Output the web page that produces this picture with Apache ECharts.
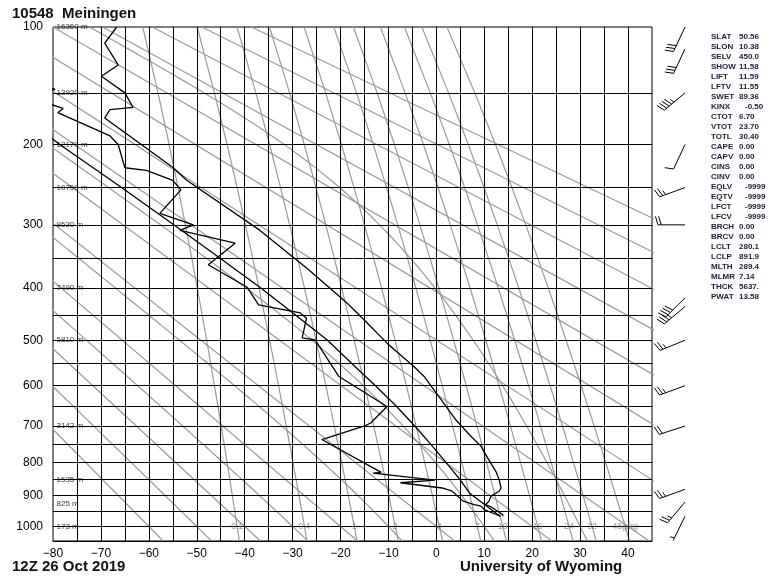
<!DOCTYPE html>
<html><head><meta charset="utf-8">
<script src="https://cdn.jsdelivr.net/npm/echarts@6/dist/echarts.min.js"></script>
<style>html,body{margin:0;padding:0;background:#fff}#c{width:778px;height:582px}</style>
</head><body><div id="c"></div>
<script>
// ---------------- data ----------------
const stationTitle = '10548  Meiningen';
const timeTitle = '12Z 26 Oct 2019';
const sourceTitle = 'University of Wyoming';

const pressureLabels = [100, 200, 300, 400, 500, 600, 700, 800, 900, 1000];
const isobars = [150, 200, 250, 300, 350, 400, 450, 500, 550, 600, 650, 700, 750, 800, 850, 900, 950, 1000];
const isotherms = [-75,-70,-65,-60,-55,-50,-45,-40,-35,-30,-25,-20,-15,-10,-5,0,5,10,15,20,25,30,35,40];
const tempTickLabels = [-80,-70,-60,-50,-40,-30,-20,-10,0,10,20,30,40];

const heightLevels = [100, 150, 200, 250, 300, 400, 500, 700, 850, 925, 1000];
const heightTexts = ['16360 m','13920 m','12170 m','10750 m','9530 m','7490 m','5810 m','3142 m','1535 m','825 m','173 m'];

// temperature profile [pressure hPa, T degC]
const tempProfile = [
  [100,-66.7],[111,-69.2],[127,-66.4],[136,-69.9],[150,-65.0],[163,-63.3],[165,-68.1],[173,-69.2],
  [226,-54.9],[241,-52.1],[308,-36.8],[369,-26.7],[428,-18.6],[459,-15.1],[506,-10.3],[556,-4.7],
  [578,-2.6],[630,0.8],[683,4.0],[727,7.2],[754,9.3],[787,10.7],[826,12.4],[850,13.1],[876,13.5],
  [881,13.8],[886,13.1],[901,11.4],[917,11.0],[928,10.3],[935,11.4],[960,13.8],[966,13.9]
];
// dew point profile
const dewProfile = [
  [140,-84],[147,-79.6],[151,-82],[158,-82],[164,-77.9],[168,-79.0],[191,-68.1],[200,-66.4],
  [226,-65.0],[229,-60.5],[241,-55.0],[253,-53.3],[284,-57.7],[300,-50.7],[308,-53.5],[327,-42.0],
  [361,-47.6],[399,-39.5],[431,-37.1],[446,-28.4],[456,-27.1],[495,-28.0],[499,-25.3],[578,-20.4],
  [650,-10.3],[692,-13.7],[699,-14.8],[736,-23.9],[829,-11.5],[831,-13.2],[852,-0.3],[860,-7.5],
  [876,1.2],[886,3.3],[917,5.6],[928,7.9],[933,9.3],[944,10.0],[966,13.4]
];
// lifted parcel path
const parcelProfile = [
  [966,13.3],[892,6.95],[850,4.9],[800,2.0],[750,-1.1],[700,-4.5],[650,-8.3],[600,-12.7],
  [550,-17.6],[500,-22.7],[450,-29.4],[400,-36.7],[350,-45.2],[300,-54.8],[250,-65.7],[200,-78.6],[190,-81.2]
];

// background reference lines
const dryAdiabatThetas = [-60,-40,-20,0,20,40,60,80,100,120,140,160,180];   // degC
const moistAdiabatThetaW = [-50,-30,-10,10,30];                               // degC at 1000 hPa
const mixingRatios = [0.1, 0.4, 1, 2, 4, 7, 10, 16, 24, 32, 48];
const mixingLabels = ['0.1','0.4','1','2','4','7','10','16','24','32','48g/kg'];
const refPressures = [100,150,200,250,300,350,400,450,500,550,600,650,700,750,800,850,900,950,1000,1050];

// winds [pressure, direction deg, speed kt]
const winds = [
  [100,205,30],[115,205,30],[150,230,45],[200,205,10],[250,250,25],[300,270,20],
  [418,225,40],[434,230,35],[500,248,25],[600,250,25],[700,252,20],[880,250,25],[920,220,25],[966,206,5]
];

const indexNames = ['SLAT','SLON','SELV','SHOW','LIFT','LFTV','SWET','KINX','CTOT','VTOT','TOTL','CAPE','CAPV','CINS','CINV','EQLV','EQTV','LFCT','LFCV','BRCH','BRCV','LCLT','LCLP','MLTH','MLMR','THCK','PWAT'];
const indexValues = ['50.56','10.38','450.0','11.58','11.59','11.55','89.36','-0.50','6.70','23.70','30.40','0.00','0.00','0.00','0.00','-9999','-9999','-9999','-9999','0.00','0.00','280.1','891.9','289.4','7.14','5637.','13.58'];

// ---------------- helpers ----------------
const K = 0.286;
const PY = p => Math.pow(p, K);
const toPts = arr => arr.map(d => [d[1], PY(d[0])]);
const dryT = (th, p) => (th + 273.15) * Math.pow(p / 1000, K) - 273.15;
const mixTd = (w, p) => { const e = w * p / (622 + w); const l = Math.log(e / 6.112); return 243.5 * l / (17.67 - l); };
const moistDTdp = (p, T) => {
  const es = 6.112 * Math.exp(17.67 * (T - 273.15) / (T - 29.65));
  const rs = 0.622 * es / (p - es);
  const Rd = 287.04, cp = 1005.7, Lv = 2.501e6;
  return (Rd * T + Lv * rs) / (p * (cp + Lv * Lv * rs * 0.622 / (Rd * T * T)));
};
const moistLine = (thw) => {
  const integrate = (pEnd, dp) => {
    let p = 1000, T = thw + 273.15; const out = [];
    while ((dp < 0 && p > pEnd) || (dp > 0 && p < pEnd)) {
      const k1 = moistDTdp(p, T), k2 = moistDTdp(p + dp/2, T + dp/2*k1),
            k3 = moistDTdp(p + dp/2, T + dp/2*k2), k4 = moistDTdp(p + dp, T + dp*k3);
      T += dp * (k1 + 2*k2 + 2*k3 + k4) / 6; p += dp;
      out.push([T - 273.15, PY(p)]);
    }
    return out;
  };
  const up = integrate(100, -5), down = integrate(1050, 5);
  return down.reverse().concat([[thw, PY(1000)]], up);
};

const GRAY = '#9a9a9a';
const series = [];
const grayLine = data => ({type:'line', silent:true, showSymbol:false, symbol:'none', z:2, animation:false,
  lineStyle:{color:GRAY, width:1.2}, data});

dryAdiabatThetas.forEach(th => series.push(grayLine([[dryT(th,100),PY(100)],[dryT(th,1050),PY(1050)]])));
moistAdiabatThetaW.forEach(tw => series.push(grayLine(moistLine(tw))));
mixingRatios.forEach(w => series.push(grayLine(refPressures.map(p => [mixTd(w,p), PY(p)]))));

series.push({type:'lines', coordinateSystem:'cartesian2d', silent:true, z:3, animation:false,
  lineStyle:{color:'#000', width:1, opacity:1},
  data: isobars.map(p => ({coords:[[-80,PY(p)],[45,PY(p)]]}))
    .concat(isotherms.map(t => ({coords:[[t,PY(100)],[t,PY(1050)]]})))});
[tempProfile, dewProfile, parcelProfile].forEach(prof => {
  series.push({type:'line', silent:true, showSymbol:false, symbol:'none', z:5, animation:false,
    lineStyle:{color:'#000', width:1.3}, data: toPts(prof)});
});
series.push({type:'scatter', silent:true, z:6, symbolSize:1, itemStyle:{color:'rgba(0,0,0,0)'}, animation:false,
  data: heightLevels.map((p,i) => ({value:[-80, PY(p)], name: heightTexts[i]})),
  label:{show:true, position:'right', distance:3, formatter:'{b}', fontSize:8, color:'#000', fontFamily:'Arial'}});
series.push({type:'scatter', silent:true, z:6, symbolSize:1, itemStyle:{color:'rgba(0,0,0,0)'}, animation:false,
  data: mixingRatios.map((w,i) => ({value:[mixTd(w,1000), PY(1000)], name: mixingLabels[i]})),
  label:{show:true, position:'inside', formatter:'{b}', fontSize:8.5, color:'#7a7a7a', fontFamily:'Arial'}});
series.push({type:'custom', coordinateSystem:'cartesian2d', clip:false, silent:true, z:6, animation:false,
  data: winds.map(w => [45, PY(w[0]), w[1], w[2]]),
  renderItem: (params, api) => {
    const pt = api.coord([api.value(0), api.value(1)]);
    const sx = pt[0] + 33, sy = pt[1];
    const d = api.value(2) * Math.PI / 180, spd = api.value(3);
    const L = 27;
    const sxU = Math.sin(d), syU = -Math.cos(d);
    const fxU = Math.cos(d), fyU = Math.sin(d);
    const tx = sx + sxU * L, ty = sy + syU * L;
    const kids = [{type:'line', shape:{x1:sx,y1:sy,x2:tx,y2:ty}, style:{stroke:'#000', lineWidth:1}}];
    let rem = Math.round(spd / 5) * 5, pos = 0;
    const tilt = 0.3;
    const addF = (len) => {
      const bx = tx - sxU * pos, by = ty - syU * pos;
      const ex = bx + (fxU + sxU * tilt) * len, ey = by + (fyU + syU * tilt) * len;
      kids.push({type:'line', shape:{x1:bx,y1:by,x2:ex,y2:ey}, style:{stroke:'#000', lineWidth:1}});
      pos += 3.2;
    };
    if (rem < 10 && rem >= 5) pos = 3.2;
    while (rem >= 10) { addF(8.5); rem -= 10; }
    if (rem >= 5) addF(4.5);
    return {type:'group', children:kids};
  }});

const graphics = [
  {type:'text', x:12, y:13.5, style:{text:stationTitle, font:'bold 15px Arial', fill:'#111', textVerticalAlign:'middle'}},
  {type:'text', x:12, y:566.5, style:{text:timeTitle, font:'bold 15px Arial', fill:'#111', textVerticalAlign:'middle'}},
  {type:'text', x:460, y:566.5, style:{text:sourceTitle, font:'bold 15px Arial', fill:'#111', textVerticalAlign:'middle'}}
];
indexNames.forEach((n,i) => {
  const y = 36.6 + i * 10;
  graphics.push({type:'text', x:711, y:y, style:{text:n, font:'bold 8px Arial', fill:'#1c1c3c', textVerticalAlign:'middle'}});
  const v = indexValues[i];
  graphics.push({type:'text', x: v.charAt(0)==='-' ? 745 : 739, y:y, style:{text:v, font:'bold 8px Arial', fill:'#1c1c3c', textVerticalAlign:'middle'}});
});

const chart = echarts.init(document.getElementById('c'));
chart.setOption({
  animation:false,
  backgroundColor:'#fff',
  grid:{left:53, top:27, width:599, height:514, show:true, borderColor:'#000', borderWidth:1, backgroundColor:'transparent'},
  xAxis:{type:'value', min:-80, max:45, interval:5,
    axisLine:{show:true, lineStyle:{color:'#000'}}, axisTick:{show:false}, splitLine:{show:false},
    axisLabel:{customValues: tempTickLabels, formatter: v => (v < 0 ? '\u2212' + (-v) : '' + v), color:'#000', fontSize:12, fontFamily:'Arial', margin:7}},
  yAxis:{type:'value', inverse:true, min:PY(100), max:PY(1050),
    axisLine:{show:true, lineStyle:{color:'#000'}}, axisTick:{show:false}, splitLine:{show:false},
    axisLabel:{customValues: pressureLabels.map(PY), formatter: v => String(Math.round(Math.pow(v, 1/K) / 10) * 10), color:'#000', fontSize:12, fontFamily:'Arial', margin:10}},
  graphic: graphics,
  series: series
});
</script></body></html>
